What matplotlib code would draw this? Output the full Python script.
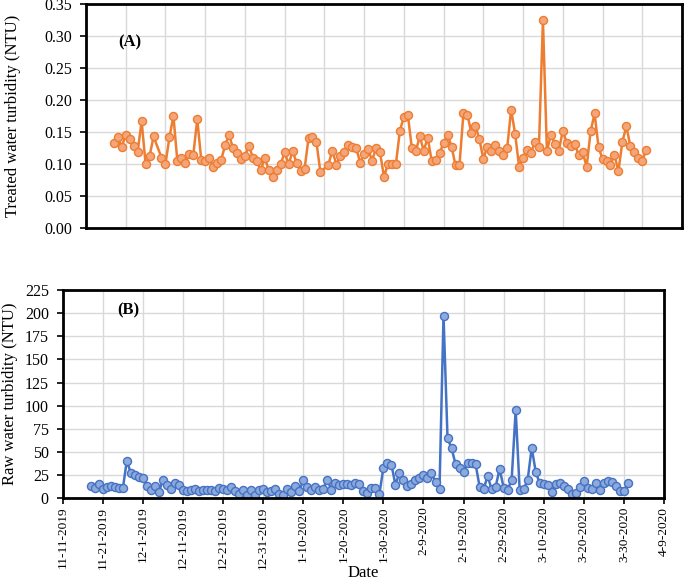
import matplotlib
matplotlib.use("Agg")
import matplotlib.pyplot as plt
import pandas as pd
import numpy as np

plt.rcParams['font.family'] = ['Liberation Serif', 'DejaVu Serif']

# ---------------- data ----------------
tick_labels = ["11-11-2019", "11-21-2019", "12-1-2019", "12-11-2019", "12-21-2019",
               "12-31-2019", "1-10-2020", "1-20-2020", "1-30-2020", "2-9-2020",
               "2-19-2020", "2-29-2020", "3-10-2020", "3-20-2020", "3-30-2020", "4-9-2020"]

# treated water: measurement days (two days without measurement)
treated_start = "2019-11-18"
treated_missing = ["2019-11-29", "2020-01-10"]
treated = [0.133, 0.142, 0.127, 0.146, 0.139, 0.128, 0.119, 0.167, 0.100, 0.112, 0.143,
           0.110, 0.100, 0.142, 0.175, 0.104, 0.109, 0.102, 0.115, 0.114, 0.170,
           0.107, 0.105, 0.109, 0.096, 0.102, 0.106, 0.129, 0.145, 0.125, 0.117,
           0.108, 0.113, 0.128, 0.110, 0.105, 0.090, 0.110, 0.090, 0.080, 0.090,
           0.100, 0.118, 0.100, 0.120, 0.102, 0.089, 0.092, 0.140, 0.142, 0.134, 0.087, 0.099,
           0.121, 0.099, 0.112, 0.118, 0.130, 0.126, 0.125, 0.102, 0.116, 0.124,
           0.105, 0.125, 0.118, 0.080, 0.100, 0.100, 0.100, 0.152, 0.174, 0.177,
           0.125, 0.120, 0.143, 0.121, 0.141, 0.105, 0.107, 0.117, 0.133, 0.146,
           0.127, 0.098, 0.099, 0.180, 0.177,
           0.148, 0.160, 0.139, 0.108, 0.127, 0.121, 0.130, 0.120, 0.114, 0.125,
           0.185, 0.147, 0.096, 0.109, 0.122, 0.117, 0.135, 0.127, 0.325, 0.120,
           0.146, 0.132, 0.121, 0.152, 0.133, 0.128, 0.131, 0.114, 0.118, 0.096,
           0.151, 0.179, 0.126, 0.108, 0.104, 0.099, 0.114, 0.089, 0.135, 0.159,
           0.128, 0.118, 0.109, 0.105, 0.122]

raw_start = "2019-11-18"
raw = [13.6, 11.4, 15, 10.4, 12.5, 12.9, 11.8, 10.7, 10.7, 40.7,
       27.1, 25, 22.5, 21.8, 13.6, 9.3, 13.6, 7.1, 19.6, 14.6,
       10, 16.8, 14.6, 8.6, 8.2, 9.3, 10, 8.2, 8.9, 8.6,
       9.3, 8.2, 11.1, 10, 8.6, 11.8, 8.2, 4.6, 8.6, 3.9,
       9.3, 3.6, 9.3, 10, 6.8, 7.5, 10, 4.3,
       3.6, 10.4, 7.1, 13.6, 7.5, 19.6, 12.5, 8.6, 11.8, 8.9,
       10.4, 20.3, 9.3, 16.1, 14.6, 15.7, 15, 14.6, 16.8, 15.7,
       7.5, 5.4, 10.7, 10.7, 4.6, 32.8, 38.2, 36.4, 14.6, 27.5,
       19.6, 12.9, 15.7, 20.3, 21.8, 25.3, 21.8, 26.8, 17.5, 10.4,
       197.4, 64.6, 54.3, 36.8, 33.2, 28.2, 38.2,
       37.8, 36.8, 12.5, 9.6, 24.3, 9.6, 12.5, 31.8, 11.4, 8.9,
       20.3, 95.3, 8.6, 9.6, 20.3, 54.6, 28.6, 16.1, 15, 14.6,
       7.1, 15.7, 16.1, 12.9, 10, 5, 5.4, 12.5, 18.2, 10.7,
       9.6, 16.1, 8.9, 16.1, 18.6, 17.5, 12.9, 7.9, 7.5, 16.4]

# ---------------- build dates ----------------
tdays = pd.date_range(treated_start, periods=len(treated) + len(treated_missing), freq="D")
tdays = tdays[~tdays.isin(pd.to_datetime(treated_missing))]
rdays = pd.date_range(raw_start, periods=len(raw), freq="D")
tick_dates = [pd.Timestamp(year=int(s.split('-')[2]), month=int(s.split('-')[0]),
                           day=int(s.split('-')[1])) for s in tick_labels]

ORANGE = "#ED7D31"
ORANGE_F = "#F4A57A"
BLUE = "#4472C4"
BLUE_F = "#8EA9DB"
GRID = "#D9D9D9"

fig = plt.figure(figsize=(6.85, 5.82), dpi=100)
axA = fig.add_axes([86/685, 1 - 228/582, 596/685, 224/582])
axB = fig.add_axes([62.7/685, 1 - 498.3/582, 601.3/685, 208.3/582])

def style(ax):
    for s in ax.spines.values():
        s.set_linewidth(2.0)
        s.set_color("black")
    ax.grid(True, color=GRID, linewidth=1.0)
    ax.set_axisbelow(True)
    ax.set_xlim(tick_dates[0], tick_dates[-1])
    ax.set_xticks(tick_dates)
    ax.tick_params(axis='y', direction='out', length=4, width=1.2, labelsize=11.5, pad=6)
    ax.tick_params(axis='x', direction='out', length=4, width=1.2, labelsize=9.6, pad=2)

# Panel A
style(axA)
axA.plot(tdays, treated, color=ORANGE, linewidth=1.8, marker='o', markersize=5.8,
         markerfacecolor=ORANGE_F, markeredgecolor=ORANGE, markeredgewidth=1.0)
axA.set_ylim(0, 0.35)
axA.set_yticks(np.arange(0, 0.351, 0.05))
axA.set_yticklabels([f"{v:.2f}" for v in np.arange(0, 0.351, 0.05)])
axA.tick_params(axis='x', length=0, labelbottom=False)
axA.set_ylabel("Treated water turbidity (NTU)", fontsize=12, labelpad=17)
axA.text(0.074, 0.83, "(A)", transform=axA.transAxes, fontsize=12, fontweight='bold',
         ha='center', va='center')

# Panel B
style(axB)
axB.plot(rdays, raw, color=BLUE, linewidth=1.8, marker='o', markersize=5.8,
         markerfacecolor=BLUE_F, markeredgecolor=BLUE, markeredgewidth=1.0)
axB.set_ylim(0, 225)
axB.set_yticks(np.arange(0, 226, 25))
axB.set_xticklabels(tick_labels, rotation=90)
axB.set_ylabel("Raw water turbidity (NTU)", fontsize=12, labelpad=5)
axB.set_xlabel("Date", fontsize=12, labelpad=-3)
axB.text(0.109, 0.90, "(B)", transform=axB.transAxes, fontsize=12, fontweight='bold',
         ha='center', va='center')

fig.savefig("out.png", dpi=100)
